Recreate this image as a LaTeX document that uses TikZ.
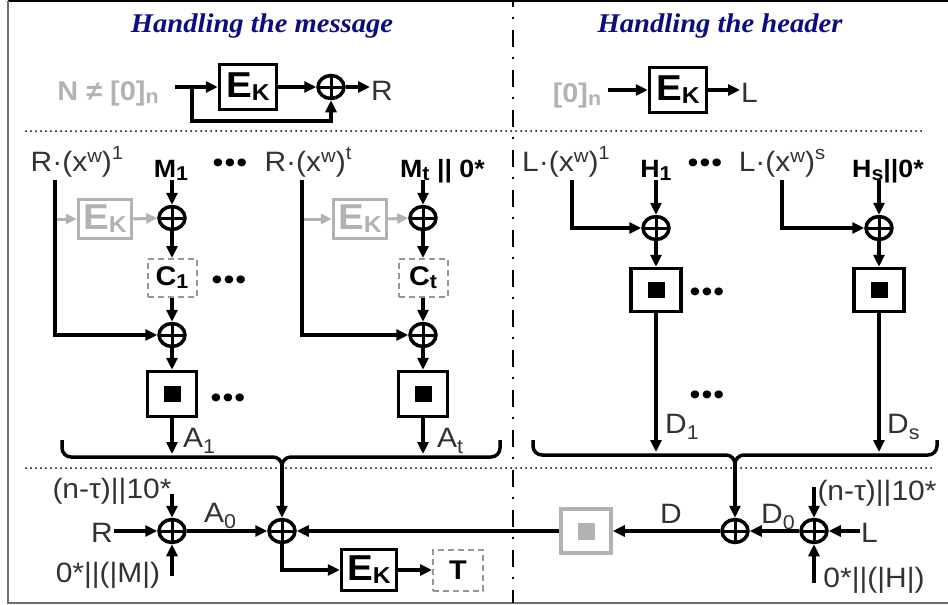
\documentclass[tikz,border=0pt]{standalone}
\usepackage{fontspec}
\setmainfont{Liberation Sans}[FakeStretch=1.07]
\newfontfamily\titlefont{Liberation Serif}[FakeStretch=1.06]
\usetikzlibrary{arrows.meta,shapes.geometric}
\definecolor{ttlblue}{RGB}{12,12,128}
\definecolor{txt}{RGB}{50,50,50}
\definecolor{lgray}{RGB}{178,178,178}
\definecolor{dgray}{RGB}{150,150,150}
\definecolor{framegray}{RGB}{110,110,110}
\newcommand\mysub[2][-4pt]{\raisebox{#1}{\fontsize{20}{20}\selectfont #2}}
\newcommand\mysup[2][12pt]{\raisebox{#1}{\fontsize{19}{19}\selectfont #2}}
\newcommand\EK{{\bfseries\fontsize{36}{36}\selectfont E\raisebox{-3pt}{\fontsize{23}{23}\selectfont K}}}
\newcommand\mydots{{\color{black}\fontsize{29}{29}\selectfont •\kern1pt•\kern1pt•}}
\begin{document}
\begin{tikzpicture}[x=1pt,y=-1pt,
  ttl/.style={font=\titlefont\bfseries\itshape\fontsize{27}{27}\selectfont, text=ttlblue, inner sep=0pt},
  lab/.style={font=\fontsize{28}{28}\selectfont, text=txt, inner sep=1pt},
  blab/.style={font=\bfseries\fontsize{25}{25}\selectfont, text=black, inner sep=1pt},
  glab/.style={font=\bfseries\fontsize{27}{27}\selectfont, text=lgray, inner sep=1pt},
  dotl/.style={lab, inner sep=0pt},
  ekbox/.style={draw, line width=3.5pt, minimum width=57pt, minimum height=45pt, inner sep=0pt},
  gekbox/.style={ekbox, draw=lgray, text=lgray, minimum width=53pt, minimum height=39pt},
  sqbox/.style={draw, line width=3.5pt, minimum width=49pt, minimum height=45pt, inner sep=0pt},
  dbox/.style={draw=dgray, line width=2pt, dash pattern=on 6pt off 4pt, minimum width=49pt, minimum height=38pt, inner sep=0pt, font=\bfseries\fontsize{27}{27}\selectfont},
  xorn/.style={ellipse, draw, line width=3.5pt, minimum width=26pt, minimum height=23pt, inner sep=0pt,
    path picture={\draw[line width=3pt] (path picture bounding box.north) -- (path picture bounding box.south)
      (path picture bounding box.west) -- (path picture bounding box.east);}},
  arr/.style={line width=3.5pt, -{Triangle[length=12pt,width=11pt]}},
  garr/.style={line width=3pt, draw=lgray, -{Triangle[length=11pt,width=10pt]}},
  ln/.style={line width=3.5pt},
  dotsep/.style={line width=2pt, line cap=round, dash pattern=on 0pt off 5pt},
]
\useasboundingbox (0,0) rectangle (948,605);
% frame
\draw[line width=2pt] (8,1) -- (948,1);
\draw[framegray, line width=1.5pt] (8,1) -- (8,603) -- (948,603);
% separators
\draw[dotsep] (26,131) -- (925,131);
\draw[dotsep] (26,468) -- (934,468);
\draw[line width=2pt, dash pattern=on 17pt off 10pt on 2pt off 11pt, dash phase=10pt] (513,0) -- (513,603);
% titles
\node[ttl, anchor=base] (t1) at (262,32) {Handling the message};
\node[ttl, anchor=base] (t2) at (720,32) {Handling the header};

% ---------- top left: R
\node[glab, anchor=base] (nlab) at (108,100) {N ≠ [0]\mysub[-3pt]{n}};
\coordinate (s1) at (175,87);
\node[ekbox] (ek1) at (248,87) {\EK};
\node[xorn] (x1) at (331,87) {};
\node[lab, anchor=base west] (R1) at (370,100) {R};
\coordinate (fb) at (192,87);
\draw[arr] (s1) -- (ek1.west);
\draw[arr] (ek1.east) -- (x1.west);
\draw[arr] (x1.east) -- (R1.west |- x1);
\draw[arr] (fb) -- ++(0,34) -| (x1.south);

% ---------- top right: L
\node[glab, anchor=base] (z2) at (577,102) {[0]\mysub[-3pt]{n}};
\coordinate (s2) at (608,90);
\node[ekbox] (ek2) at (678,90) {\EK};
\node[lab, anchor=base west] (L2) at (740,102) {L};
\draw[arr] (s2) -- (ek2.west);
\draw[arr] (ek2.east) -- (L2.west |- ek2);

% ---------- message labels
\node[lab, anchor=base] (r1) at (77,171) {R·(x\mysup[9pt]{w})\mysup{1}};
\node[blab, anchor=base] (m1) at (171,177) {M\mysub[-3pt]{1}};
\node[dotl] (dd1) at (230,166) {\mydots};
\node[lab, anchor=base] (rt) at (308,171) {R·(x\mysup[9pt]{w})\mysup{t}};
\node[blab, anchor=base west] (mt) at (399,177) {M\mysub[-3pt]{t} || 0*};

% ---------- message column 1
\coordinate (c1top) at (55,180);
\coordinate (g1in) at (55,219);
\coordinate (m1top) at (172,180);
\node[xorn] (xa1) at (172,218) {};
\node[gekbox] (g1) at (105,219) {\EK};
\node[dbox] (c1) at (172,278) {C\mysub[-3pt]{1}};
\node[xorn] (xb1) at (172,335) {};
\node[sqbox] (sq1) at (172,394) {\rule{17pt}{16pt}};
\coordinate (a1end) at (172,454);
\node[lab, anchor=base west] (A1) at (182,447) {A\mysub[-6pt]{1}};
\node[dotl] (dd2) at (229,283) {\mydots};
\node[dotl] (dd3) at (228,401) {\mydots};
\draw[garr] (g1in) -- (g1.west);
\draw[garr] (g1.east) -- (xa1.west);
\draw[arr] (c1top) |- (xb1.west);
\draw[arr] (m1top) -- (xa1.north);
\draw[arr] (xa1.south) -- (c1.north);
\draw[arr] (c1.south) -- (xb1.north);
\draw[arr] (xb1.south) -- (sq1.north);
\draw[arr] (sq1.south) -- (a1end);

% ---------- message column t
\coordinate (cttop) at (302,180);
\coordinate (gtin) at (302,219);
\coordinate (mttop) at (423,180);
\node[xorn] (xat) at (423,218) {};
\node[gekbox] (gt) at (360,219) {\EK};
\node[dbox] (ct) at (423,278) {C\mysub[-3pt]{t}};
\node[xorn] (xbt) at (423,335) {};
\node[sqbox] (sqt) at (423,394) {\rule{17pt}{16pt}};
\coordinate (atend) at (423,454);
\node[lab, anchor=base west] (At) at (436,447) {A\mysub[-6pt]{t}};
\draw[garr] (gtin) -- (gt.west);
\draw[garr] (gt.east) -- (xat.west);
\draw[arr] (cttop) |- (xbt.west);
\draw[arr] (mttop) -- (xat.north);
\draw[arr] (xat.south) -- (ct.north);
\draw[arr] (ct.south) -- (xbt.north);
\draw[arr] (xbt.south) -- (sqt.north);
\draw[arr] (sqt.south) -- (atend);

% ---------- header labels
\node[lab, anchor=base] (l1) at (566,171) {L·(x\mysup[9pt]{w})\mysup{1}};
\node[blab, anchor=base] (h1) at (656,177) {H\mysub[-3pt]{1}};
\node[dotl] (dd4) at (705,166) {\mydots};
\node[lab, anchor=base] (ls) at (782,171) {L·(x\mysup[9pt]{w})\mysup{s}};
\node[blab, anchor=base west] (hs) at (851,177) {H\mysub[-3pt]{s}||0*};

% ---------- header column 1
\coordinate (l1top) at (572,180);
\coordinate (h1top) at (656,180);
\node[xorn] (xh1) at (656,228) {};
\node[sqbox, minimum width=50pt, minimum height=43pt] (sh1) at (656,290) {\rule{17pt}{16pt}};
\coordinate (d1end) at (656,452);
\node[lab, anchor=base west] (D1) at (664,433) {D\mysub[-6pt]{1}};
\node[dotl] (dd5) at (707,295) {\mydots};
\node[dotl] (dd6) at (707,398) {\mydots};
\draw[arr] (l1top) |- (xh1.west);
\draw[arr] (h1top) -- (xh1.north);
\draw[arr] (xh1.south) -- (sh1.north);
\draw[arr] (sh1.south) -- (d1end);

% ---------- header column s
\coordinate (lstop) at (782,180);
\coordinate (hstop) at (879,180);
\node[xorn] (xhs) at (879,228) {};
\node[sqbox, minimum width=50pt, minimum height=43pt] (shs) at (879,290) {\rule{17pt}{16pt}};
\coordinate (dsend) at (879,452);
\node[lab, anchor=base west] (Ds) at (886,433) {D\mysub[-6pt]{s}};
\draw[arr] (lstop) |- (xhs.west);
\draw[arr] (hstop) -- (xhs.north);
\draw[arr] (xhs.south) -- (shs.north);
\draw[arr] (shs.south) -- (dsend);

% ---------- braces
\draw[ln, rounded corners=9pt] (62,440) -- (62,457) -- (282,457) -- (282,470);
\draw[ln, rounded corners=9pt] (500,440) -- (500,457) -- (282,457) -- (282,470);
\draw[ln, rounded corners=9pt] (533,440) -- (533,455) -- (735,455) -- (735,468);
\draw[ln, rounded corners=9pt] (937,440) -- (937,455) -- (735,455) -- (735,468);
\coordinate (bL) at (282,466);
\coordinate (bR) at (735,464);

% ---------- bottom left
\node[lab, anchor=base] (nt1) at (112,498) {(n-τ)||10*};
\node[xorn] (xA) at (172,531) {};
\node[lab, anchor=base east] (R3) at (114,542) {R};
\coordinate (xAt) at (172,494);
\coordinate (xAb) at (172,576);
\node[lab, anchor=base] (om) at (108,582) {0*||(|M|)};
\node[lab, anchor=base] (A0) at (220,522) {A\mysub[-6pt]{0}};
\node[xorn] (xB) at (282,531) {};
\node[ekbox, minimum width=55pt, minimum height=41pt] (ek3) at (369,570) {\EK};
\node[dbox, minimum width=50pt, minimum height=41pt] (T) at (458,570) {T};
\draw[arr] (R3.east |- xA) -- (xA.west);
\draw[arr] (xAt) -- (xA.north);
\draw[arr] (xAb) -- (xA.south);
\draw[arr] (xA.east) -- (xB.west);
\draw[arr] (bL) -- (xB.north);
\draw[arr] (xB.south) |- (ek3.west);
\draw[arr] (ek3.east) -- (T.west);

% ---------- bottom right
\node[sqbox, draw=lgray, minimum width=50pt, minimum height=44pt] (gs) at (586,531) {\textcolor{lgray}{\rule{17pt}{17pt}}};
\node[xorn] (xC) at (735,531) {};
\node[lab, anchor=base] (Dl) at (671,523) {D};
\node[xorn] (xD) at (814,531) {};
\node[lab, anchor=base] (D0) at (778,523) {D\mysub[-6pt]{0}};
\node[lab, anchor=base west] (L3) at (860,542) {L};
\node[lab, anchor=base] (nt2) at (877,500) {(n-τ)||10*};
\node[lab, anchor=base] (oh) at (874,587) {0*||(|H|)};
\coordinate (xDt) at (814,487);
\coordinate (xDb) at (814,583);
\draw[arr] (gs.west) -- (xB.east);
\draw[arr] (xC.west) -- (gs.east);
\draw[arr] (bR) -- (xC.north);
\draw[arr] (xD.west) -- (xC.east);
\draw[arr] (L3.west |- xD) -- (xD.east);
\draw[arr] (xDt) -- (xD.north);
\draw[arr] (xDb) -- (xD.south);
\end{tikzpicture}
\end{document}
